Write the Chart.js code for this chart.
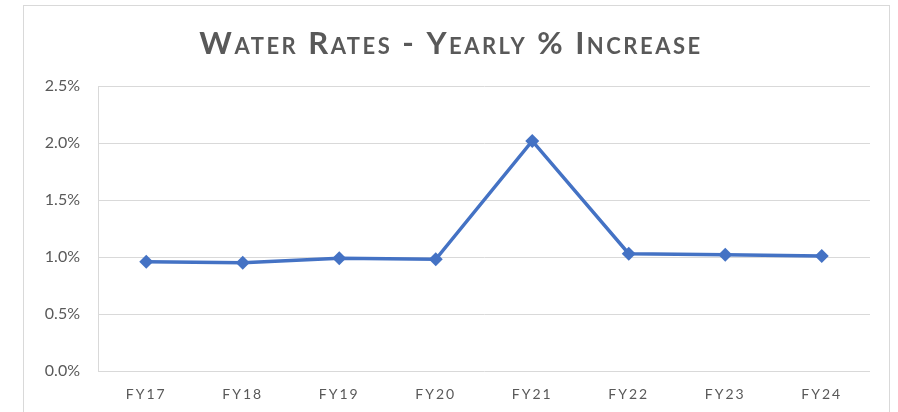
<!DOCTYPE html>
<html>
<head>
<meta charset="utf-8">
<script src="https://cdn.jsdelivr.net/npm/chart.js@4/dist/chart.umd.min.js"></script>
<style>
  body { margin: 0; background: #fff; }
  #frame { position: absolute; left: 23px; top: 5px; width: 865px; height: 430px; border: 1px solid #d9d9d9; }
  #wrap { position: absolute; left: 0; top: 0; width: 898px; height: 412px; }
</style>
</head>
<body>
<div id="frame"></div>
<div id="wrap"><canvas id="rates"></canvas></div>
<script>
// Chart data (percent)
const years = ['FY17', 'FY18', 'FY19', 'FY20', 'FY21', 'FY22', 'FY23', 'FY24'];
const increase = [0.96, 0.95, 0.99, 0.98, 2.02, 1.03, 1.02, 1.01];
const yTicks = [0, 0.5, 1.0, 1.5, 2.0, 2.5];

const grey = '#595959';
const lineBlue = '#4472C4';

const ctx = document.getElementById('rates').getContext('2d');

const chart = new Chart(ctx, {
    type: 'line',
    data: {
        labels: years,
        datasets: [{
            label: 'Yearly % Increase',
            data: increase,
            borderColor: lineBlue,
            backgroundColor: lineBlue,
            borderWidth: 3.5,
            pointStyle: 'rectRot',
            pointRadius: 7,
            pointBorderWidth: 0,
            tension: 0
        }]
    },
    options: {
        responsive: true,
        maintainAspectRatio: false,
        animation: false,
        layout: { padding: { left: 0, right: 28, top: 0, bottom: 0 } },
        plugins: {
            legend: { display: false },
            tooltip: { enabled: false },
            title: {
                display: true,
                text: 'Water Rates - Yearly % Increase',
                color: grey,
                // small-caps slipped in through the weight, Chart.js rejects it as a style
                font: { family: 'Lato, "Open Sans", sans-serif', size: 31, weight: 'small-caps bold' },
                padding: { top: 25, bottom: 24 }
            }
        },
        scales: {
            x: {
                offset: true,
                grid: { display: false },
                border: { display: false },
                ticks: {
                    color: grey,
                    font: { family: 'Lato, "Open Sans", sans-serif', size: 14 },
                    padding: 7
                },
                afterFit: s => { s.height = 41; }
            },
            y: {
                min: 0,
                max: 2.5,
                afterBuildTicks: s => { s.ticks = yTicks.map(v => ({ value: v })); },
                grid: { color: '#d9d9d9', lineWidth: 1, drawTicks: false },
                border: { display: true, color: '#d9d9d9' },
                ticks: {
                    color: grey,
                    font: { family: 'Lato, "Open Sans", sans-serif', size: 16 },
                    padding: 18,
                    callback: v => v.toFixed(1) + '%'
                },
                afterFit: s => { s.width = 98; }
            }
        }
    }
});

// letter spacing (and a small shift for the title, which Excel centres on the frame)
function spaced(fn, gap, dx) {
    return function (...args) {
        const c = this.ctx;
        c.save();
        c.letterSpacing = gap;
        c.translate(dx, 0);
        fn.apply(this, args);
        c.restore();
    };
}
chart.titleBlock.draw = spaced(chart.titleBlock.draw, '2.5px', 16);
chart.scales.x.drawLabels = spaced(chart.scales.x.drawLabels, '2px', 0);
chart.draw();
</script>
</body>
</html>
